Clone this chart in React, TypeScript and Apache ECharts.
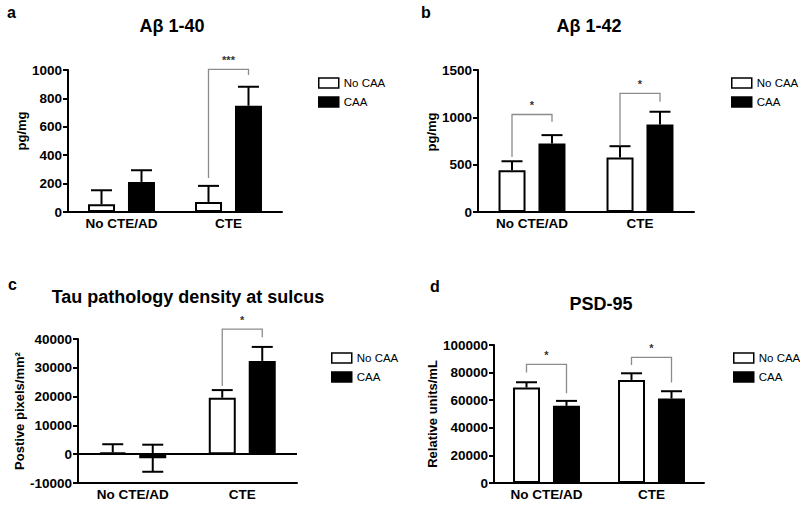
import React, { useEffect, useRef } from "react";
import * as echarts from "echarts";

// ---------- data ----------
const categories = ["No CTE/AD", "CTE"];
const groupNames = ["No CAA", "CAA"];

// a: Aβ 1-40 (pg/mg)
const ab40NoCAA = [54, 71];
const ab40NoCAAErr = [99, 113];
const ab40CAA = [212, 748];
const ab40CAAErr = [82, 134];
const ab40Axis = [0, 1000, 200];
const ab40Brackets = [[1, 1005, 240, 965]];
const ab40Stars = ["***"];

// b: Aβ 1-42 (pg/mg)
const ab42NoCAA = [441, 575];
const ab42NoCAAErr = [95, 120];
const ab42CAA = [723, 925];
const ab42CAAErr = [89, 134];
const ab42Axis = [0, 1500, 500];
const ab42Brackets = [
  [0, 1030, 582, 953],
  [1, 1253, 706, 1164],
];
const ab42Stars = ["*", "*"];

// c: Tau pathology density at sulcus (positive pixels/mm²)
const tauNoCAA = [580, 19600];
const tauNoCAAErr = [2880, 2660];
const tauCAA = [-1400, 32400];
const tauCAAErr = [4700, 4850];
const tauAxis = [-10000, 40000, 10000];
const tauBrackets = [[1, 43400, 23700, 40600]];
const tauStars = ["*"];

// d: PSD-95 (relative units/mL)
const psdNoCAA = [69200, 74700];
const psdNoCAAErr = [3800, 4800];
const psdCAA = [55900, 61200];
const psdCAAErr = [3600, 5300];
const psdAxis = [0, 100000, 20000];
const psdBrackets = [
  [0, 86000, 80000, 65000],
  [1, 91000, 85500, 72800],
];
const psdStars = ["*", "*"];

// ---------- style ----------
const FONT = "'Liberation Sans', Arial, Helvetica, sans-serif";
const BAR_W = 27;
const BAR_OFFSET = 20;
const CAP_HALF = 10.5;

type Panel = {
  title: string;
  letter: string;
  yName: string;
  noCAA: number[];
  noCAAErr: number[];
  caa: number[];
  caaErr: number[];
  axis: number[];
  brackets: number[][];
  stars: string[];
  grid: { left: number; top: number; width: number; height: number };
  nameGap: number;
  namePad: number;
  legend: { left: number; top: number };
  titlePos: [number, number];
  letterPos: [number, number];
  zeroLine: boolean;
};

const panels: Panel[] = [
  {
    title: "Aβ 1-40",
    letter: "a",
    yName: "pg/mg",
    noCAA: ab40NoCAA,
    noCAAErr: ab40NoCAAErr,
    caa: ab40CAA,
    caaErr: ab40CAAErr,
    axis: ab40Axis,
    brackets: ab40Brackets,
    stars: ab40Stars,
    grid: { left: 68, top: 70, width: 214, height: 142 },
    nameGap: 40,
    namePad: 20,
    legend: { left: 313, top: 72 },
    titlePos: [172, 26],
    letterPos: [7, 12.5],
    zeroLine: false,
  },
  {
    title: "Aβ 1-42",
    letter: "b",
    yName: "pg/mg",
    noCAA: ab42NoCAA,
    noCAAErr: ab42NoCAAErr,
    caa: ab42CAA,
    caaErr: ab42CAAErr,
    axis: ab42Axis,
    brackets: ab42Brackets,
    stars: ab42Stars,
    grid: { left: 478, top: 70, width: 216, height: 142 },
    nameGap: 36,
    namePad: 18,
    legend: { left: 726, top: 72 },
    titlePos: [589, 26],
    letterPos: [421, 12.5],
    zeroLine: false,
  },
  {
    title: "Tau pathology density at sulcus",
    letter: "c",
    yName: "Postive pixels/mm²",
    noCAA: tauNoCAA,
    noCAAErr: tauNoCAAErr,
    caa: tauCAA,
    caaErr: tauCAAErr,
    axis: tauAxis,
    brackets: tauBrackets,
    stars: tauStars,
    grid: { left: 78, top: 339, width: 219, height: 144 },
    nameGap: 52,
    namePad: 0,
    legend: { left: 326, top: 347 },
    titlePos: [188, 297],
    letterPos: [8, 284.5],
    zeroLine: true,
  },
  {
    title: "PSD-95",
    letter: "d",
    yName: "Relative units/mL",
    noCAA: psdNoCAA,
    noCAAErr: psdNoCAAErr,
    caa: psdCAA,
    caaErr: psdCAAErr,
    axis: psdAxis,
    brackets: psdBrackets,
    stars: psdStars,
    grid: { left: 494, top: 345, width: 210, height: 138 },
    nameGap: 50,
    namePad: 0,
    legend: { left: 728, top: 347 },
    titlePos: [601, 304],
    letterPos: [430, 286],
    zeroLine: false,
  },
];

function errorSeries(idx: number, values: number[], errs: number[], side: number) {
  return {
    type: "custom",
    name: "err" + idx + "_" + side,
    xAxisIndex: idx,
    yAxisIndex: idx,
    silent: true,
    z: 5,
    clip: false,
    encode: { x: 0, y: 1 },
    data: values.map((v, i) => [i, v, errs[i]]),
    renderItem: (params: any, api: any) => {
      const i = api.value(0);
      const m = api.value(1);
      const s = api.value(2);
      const hiV = m + s;
      const loV = m >= 0 ? m : m - s;
      const pHi = api.coord([i, hiV]);
      const pLo = api.coord([i, loV]);
      const x = pHi[0] + side * BAR_OFFSET;
      const st = { stroke: "#000", lineWidth: 2 };
      const children: any[] = [
        { type: "line", shape: { x1: x, y1: pLo[1], x2: x, y2: pHi[1] }, style: st },
        { type: "line", shape: { x1: x - CAP_HALF, y1: pHi[1], x2: x + CAP_HALF, y2: pHi[1] }, style: st },
      ];
      if (m < 0) {
        children.push({
          type: "line",
          shape: { x1: x - CAP_HALF, y1: pLo[1], x2: x + CAP_HALF, y2: pLo[1] },
          style: st,
        });
      }
      return { type: "group", children };
    },
  };
}

function bracketSeries(idx: number, brackets: number[][], stars: string[]) {
  return {
    type: "custom",
    name: "sig" + idx,
    xAxisIndex: idx,
    yAxisIndex: idx,
    silent: true,
    z: 6,
    clip: false,
    encode: { x: 0, y: 1 },
    data: brackets,
    renderItem: (params: any, api: any) => {
      const i = api.value(0);
      const top = api.coord([i, api.value(1)]);
      const l = api.coord([i, api.value(2)]);
      const r = api.coord([i, api.value(3)]);
      const xl = top[0] - BAR_OFFSET;
      const xr = top[0] + BAR_OFFSET;
      return {
        type: "group",
        children: [
          {
            type: "polyline",
            shape: { points: [[xl, l[1]], [xl, top[1]], [xr, top[1]], [xr, r[1]]] },
            style: { stroke: "#8c8c8c", lineWidth: 1.3, fill: null },
          },
          {
            type: "text",
            x: top[0],
            y: top[1] - 9,
            style: {
              text: stars[params.dataIndex],
              align: "center",
              verticalAlign: "middle",
              font: `bold 11px ${FONT}`,
              fill: "#333",
            },
          },
        ],
      };
    },
  };
}

function buildOption() {
  const grid: any[] = [];
  const xAxis: any[] = [];
  const yAxis: any[] = [];
  const series: any[] = [];
  const legend: any[] = [];
  const graphic: any[] = [];

  panels.forEach((p, idx) => {
    grid.push({ ...p.grid, outerBoundsMode: "none", containLabel: false });
    xAxis.push({
      type: "category",
      gridIndex: idx,
      data: categories,
      boundaryGap: true,
      axisLine: { show: true, onZero: false, lineStyle: { color: "#000", width: 2 } },
      axisTick: { show: false },
      axisLabel: { color: "#000", fontWeight: "bold", fontSize: 13.5, fontFamily: FONT, margin: 4 },
      splitLine: { show: false },
    });
    yAxis.push({
      type: "value",
      gridIndex: idx,
      min: p.axis[0],
      max: p.axis[1],
      interval: p.axis[2],
      name: p.yName,
      nameLocation: "middle",
      nameGap: p.nameGap,
      nameTextStyle: {
        color: "#000",
        fontWeight: "bold",
        fontSize: 13,
        fontFamily: FONT,
        padding: [0, 0, 0, p.namePad],
      },
      axisLine: { show: true, lineStyle: { color: "#000", width: 2 } },
      axisTick: { show: true, inside: false, length: 5, lineStyle: { color: "#000", width: 2 } },
      axisLabel: {
        color: "#000",
        fontWeight: "bold",
        fontSize: 13.5,
        fontFamily: FONT,
        margin: 6,
        formatter: (v: number) => String(v),
      },
      splitLine: { show: false },
    });
    const noBar: any = {
      type: "bar",
      name: groupNames[0],
      xAxisIndex: idx,
      yAxisIndex: idx,
      data: p.noCAA,
      barWidth: BAR_W,
      barGap: "48%",
      itemStyle: { color: "#fff", borderColor: "#000", borderWidth: 2 },
      silent: true,
      z: 2,
    };
    if (p.zeroLine) {
      noBar.markLine = {
        silent: true,
        symbol: "none",
        label: { show: false },
        lineStyle: { color: "#000", width: 2, type: "solid" },
        data: [{ yAxis: 0 }],
      };
    }
    series.push(noBar);
    series.push({
      type: "bar",
      name: groupNames[1],
      xAxisIndex: idx,
      yAxisIndex: idx,
      data: p.caa,
      barWidth: BAR_W,
      barGap: "48%",
      itemStyle: { color: "#000", borderColor: "#000", borderWidth: 2 },
      silent: true,
      z: 2,
    });
    series.push(errorSeries(idx, p.noCAA, p.noCAAErr, -1));
    series.push(errorSeries(idx, p.caa, p.caaErr, 1));
    series.push(bracketSeries(idx, p.brackets, p.stars));

    legend.push({
      left: p.legend.left,
      top: p.legend.top,
      orient: "vertical",
      itemWidth: 20,
      itemHeight: 10,
      itemGap: 7,
      selectedMode: false,
      icon: "rect",
      textStyle: { color: "#000", fontSize: 11.5, fontFamily: FONT },
      data: [
        { name: groupNames[0], itemStyle: { color: "#fff", borderColor: "#000", borderWidth: 1.5 } },
        { name: groupNames[1], itemStyle: { color: "#000", borderColor: "#000", borderWidth: 1.5 } },
      ],
    });

    graphic.push({
      type: "text",
      x: p.titlePos[0],
      y: p.titlePos[1],
      style: {
        text: p.title,
        align: "center",
        verticalAlign: "middle",
        font: `bold 18px ${FONT}`,
        fill: "#000",
      },
    });
    graphic.push({
      type: "text",
      x: p.letterPos[0],
      y: p.letterPos[1],
      style: {
        text: p.letter,
        align: "left",
        verticalAlign: "middle",
        font: `bold 16px ${FONT}`,
        fill: "#000",
      },
    });
  });

  return {
    animation: false,
    backgroundColor: "#fff",
    textStyle: { fontFamily: FONT },
    grid,
    xAxis,
    yAxis,
    series,
    legend,
    graphic,
  };
}

export default function App() {
  const ref = useRef<HTMLDivElement>(null);
  useEffect(() => {
    if (!ref.current) return;
    const chart = echarts.init(ref.current, null, { renderer: "svg" });
    chart.setOption(buildOption() as any);
    return () => chart.dispose();
  }, []);
  return (
    <div
      ref={ref}
      style={{ position: "fixed", left: 0, top: 0, width: 800, height: 505, background: "#fff" }}
    />
  );
}
